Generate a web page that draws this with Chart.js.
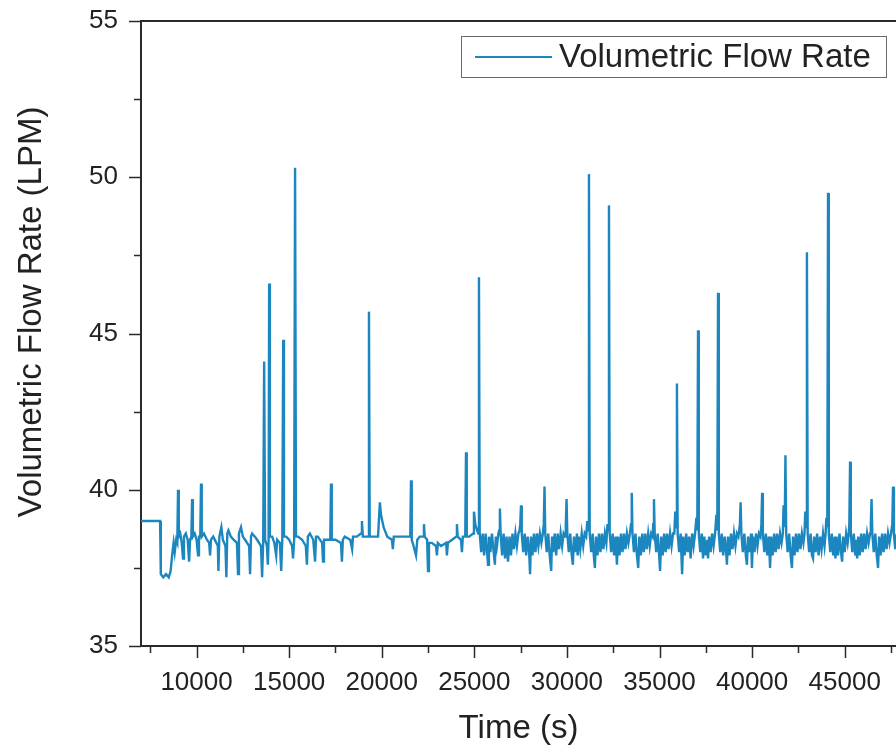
<!DOCTYPE html>
<html>
<head>
<meta charset="utf-8">
<script src="https://cdn.jsdelivr.net/npm/chart.js@4.4.1/dist/chart.umd.min.js"></script>
<style>
  html, body { margin: 0; padding: 0; background: #fff; overflow: hidden; }
  #flowChart { display: block; }
</style>
</head>
<body>
<canvas id="flowChart" width="896" height="749"></canvas>
<script>
// Data
const seriesLabel = 'Volumetric Flow Rate';

// Time (s), start-up and sparse part
const timeS = [
    7000, 8030, 8070, 8200, 8350, 8500, 8600, 8680, 8760, 8820,
    8900, 8960, 9000, 9040, 9120, 9200, 9270, 9320, 9420, 9520,
    9600, 9650, 9720, 9760, 9800, 9900, 10000, 10080, 10130, 10200,
    10240, 10280, 10400, 10560, 10680, 10730, 10780, 10900, 11070, 11150,
    11180, 11230, 11340, 11420, 11560, 11610, 11660, 11720, 11850, 12000,
    12180, 12240, 12290, 12400, 12500, 12620, 12840, 12890, 12940, 13000,
    13150, 13270, 13480, 13540, 13600, 13650, 13700, 13800, 13850, 13890,
    13920, 13960, 14080, 14200, 14300, 14350, 14500, 14570, 14630, 14680,
    14720, 14840, 15000, 15160, 15210, 15270, 15320, 15370, 15480, 15700,
    15900, 15960, 16010, 16120, 16300, 16400, 16450, 16550, 16780, 16830,
    16880, 17000, 17220, 17260, 17300, 17500, 17800, 17850, 17900, 18000,
    18300, 18400, 18450, 18650, 18880, 18930, 18980, 19100, 19270, 19310,
    19350, 19500, 19800, 19900, 19960, 20100, 20300, 20550, 20600, 20650,
    20900, 21300, 21540, 21580, 21620, 21720, 21850, 21920, 22050, 22240,
    22280, 22320, 22450, 22500, 22550, 22700, 22930, 22980, 23030, 23200,
    23480, 23520, 23570, 23800, 24020, 24060, 24100, 24280, 24330, 24380,
    24510, 24550, 24590, 24720, 24940, 24980, 25050, 25150, 25210, 25250, 25290,
    // dense part, one row per bump
    25370, 25450, 25530, 25610, 25690, 25740, 25790, 25870, 25950, 26030, 26110, 26160, 26220, 26300, 26340, 26380, 26420,
    26500, 26580, 26660, 26740, 26820, 26900, 26980, 27060, 27140, 27220, 27300, 27380, 27440, 27480, 27520, 27560,
    27640, 27720, 27800, 27880, 27960, 28010, 28060, 28140, 28220, 28300, 28380, 28460, 28540, 28620, 28700, 28750, 28790, 28830,
    28910, 28990, 29070, 29150, 29200, 29260, 29340, 29420, 29500, 29580, 29660, 29740, 29820, 29900, 29940, 29980, 30020,
    30100, 30180, 30260, 30320, 30380, 30460, 30540, 30580, 30640, 30720, 30800, 30880, 30960, 31040, 31100, 31150, 31190, 31230,
    31310, 31390, 31450, 31510, 31570, 31650, 31730, 31810, 31890, 31970, 32050, 32130, 32190, 32230, 32270, 32310,
    32390, 32470, 32550, 32630, 32700, 32760, 32840, 32920, 33000, 33080, 33160, 33240, 33320, 33400, 33460, 33500, 33540,
    33620, 33700, 33780, 33850, 33910, 33990, 34070, 34150, 34230, 34310, 34390, 34470, 34550, 34630, 34660, 34700, 34740,
    34820, 34900, 34980, 35030, 35090, 35170, 35250, 35330, 35410, 35490, 35570, 35650, 35730, 35800, 35850, 35900, 35940, 35980,
    36060, 36140, 36220, 36280, 36360, 36440, 36520, 36600, 36680, 36760, 36840, 36920, 36990, 37040, 37080, 37120,
    37200, 37280, 37350, 37420, 37500, 37580, 37620, 37680, 37760, 37840, 37920, 38000, 38070, 38120, 38160, 38200,
    38280, 38360, 38440, 38520, 38600, 38640, 38700, 38780, 38860, 38940, 39020, 39100, 39180, 39260, 39340, 39380, 39420,
    39500, 39580, 39660, 39720, 39780, 39860, 39940, 39990, 40050, 40130, 40210, 40290, 40370, 40450, 40500, 40540, 40580,
    40660, 40740, 40820, 40900, 40970, 41030, 41110, 41190, 41270, 41350, 41430, 41510, 41590, 41660, 41700, 41760, 41800, 41840,
    41920, 42000, 42080, 42150, 42210, 42290, 42370, 42450, 42530, 42610, 42690, 42770, 42830, 42870, 42920, 42960, 43000,
    43080, 43160, 43230, 43290, 43350, 43430, 43510, 43590, 43670, 43750, 43830, 43910, 43970, 44010, 44060, 44100, 44140,
    44220, 44300, 44380, 44460, 44500, 44560, 44640, 44720, 44800, 44860, 44920, 45000, 45080, 45160, 45220, 45250, 45290, 45330,
    45410, 45490, 45570, 45630, 45670, 45730, 45810, 45890, 45970, 46050, 46130, 46210, 46290, 46370, 46410, 46450, 46490,
    46570, 46650, 46730, 46800, 46860, 46940, 47020, 47100, 47180, 47260, 47340, 47420, 47500, 47570, 47610, 47650, 47730, 47800
];

// Volumetric flow rate (LPM), same rows as timeS
const flowLPM = [
    39.0, 39.0, 37.3, 37.2, 37.3, 37.2, 37.4, 37.9, 38.3, 38.0,
    38.4, 38.3, 40.0, 38.5, 38.6, 38.3, 37.8, 38.5, 38.6, 38.4,
    37.7, 38.4, 38.5, 39.7, 38.5, 38.6, 38.4, 37.9, 38.5, 38.5,
    40.2, 38.5, 38.6, 38.4, 38.3, 37.9, 38.4, 38.5, 38.3, 38.2,
    37.4, 38.5, 38.8, 38.4, 38.2, 37.2, 38.6, 38.7, 38.5, 38.4,
    38.3, 37.3, 38.6, 38.8, 38.5, 38.4, 38.2, 37.3, 38.5, 38.6,
    38.5, 38.4, 38.2, 37.2, 38.4, 44.1, 38.4, 38.2, 37.6, 38.4,
    46.6, 38.5, 38.5, 38.3, 37.9, 38.4, 38.3, 37.4, 38.4, 44.8,
    38.5, 38.5, 38.4, 38.2, 37.8, 38.4, 50.3, 38.5, 38.5, 38.4,
    38.2, 37.6, 38.5, 38.6, 38.4, 37.7, 38.5, 38.5, 38.3, 37.7,
    38.4, 38.4, 38.4, 40.2, 38.4, 38.4, 38.3, 37.7, 38.4, 38.5,
    38.4, 38.1, 38.5, 38.5, 38.6, 39.0, 38.5, 38.5, 38.5, 45.7,
    38.5, 38.5, 38.5, 39.6, 39.2, 38.8, 38.5, 38.4, 38.1, 38.5,
    38.5, 38.5, 38.5, 40.3, 38.4, 38.2, 37.9, 38.4, 38.5, 38.5,
    38.9, 38.5, 38.4, 37.4, 38.3, 38.3, 38.2, 37.9, 38.3, 38.2,
    38.3, 37.9, 38.3, 38.4, 38.5, 38.9, 38.5, 38.4, 38.0, 38.5,
    38.5, 41.2, 38.5, 38.5, 38.6, 39.3, 38.9, 38.7, 38.6, 46.8, 38.6,
    // dense part
    38.0, 38.6, 37.9, 38.6, 38.0, 37.6, 38.5, 38.0, 38.6, 38.1, 37.6, 38.5, 38.2, 38.6, 38.7, 39.4, 38.6,
    37.9, 38.6, 37.8, 38.5, 37.7, 38.5, 37.9, 38.6, 38.1, 38.6, 38.2, 38.6, 38.7, 38.9, 39.5, 38.6,
    38.0, 38.6, 37.9, 38.5, 38.0, 37.3, 38.5, 37.9, 38.6, 38.0, 38.6, 38.2, 38.6, 38.3, 38.6, 38.9, 40.1, 38.6,
    38.0, 38.6, 37.9, 37.4, 38.5, 38.0, 38.6, 37.9, 38.6, 38.1, 38.6, 38.2, 38.6, 38.5, 38.9, 39.7, 38.6,
    38.0, 38.6, 37.9, 37.6, 38.5, 38.0, 38.6, 37.9, 38.5, 38.1, 38.6, 38.2, 38.6, 38.5, 39.0, 38.7, 50.1, 38.6,
    38.0, 38.6, 37.9, 37.5, 38.5, 37.9, 38.6, 38.0, 38.6, 38.1, 38.6, 38.3, 38.9, 38.7, 49.1, 38.6,
    38.0, 38.6, 37.9, 38.5, 37.6, 38.5, 37.9, 38.6, 38.0, 38.6, 38.1, 38.6, 38.3, 38.6, 38.9, 39.9, 38.6,
    38.0, 38.6, 37.9, 37.5, 38.5, 37.9, 38.6, 38.0, 38.6, 38.1, 38.6, 38.2, 38.6, 38.5, 38.9, 39.7, 38.6,
    38.0, 38.6, 37.9, 37.4, 38.5, 37.9, 38.6, 38.0, 38.6, 38.1, 38.6, 38.2, 38.6, 38.6, 39.3, 38.8, 43.4, 38.6,
    38.0, 38.6, 37.3, 38.5, 37.9, 38.6, 38.0, 38.5, 37.8, 38.6, 38.2, 38.6, 39.1, 38.7, 45.1, 38.6,
    38.0, 38.6, 37.8, 38.5, 37.9, 38.4, 37.8, 38.5, 38.0, 38.6, 38.2, 38.6, 39.2, 38.7, 46.3, 38.6,
    38.0, 38.6, 37.9, 38.5, 38.0, 37.6, 38.5, 37.9, 38.6, 38.1, 38.6, 38.2, 38.6, 38.5, 38.9, 39.6, 38.6,
    38.0, 38.6, 37.9, 37.6, 38.5, 38.0, 38.6, 37.5, 38.5, 38.0, 38.6, 38.2, 38.6, 38.5, 38.9, 39.9, 38.6,
    38.0, 38.6, 37.9, 38.5, 37.5, 38.5, 37.9, 38.6, 38.0, 38.6, 38.1, 38.6, 38.3, 38.6, 39.5, 38.8, 41.1, 38.6,
    38.0, 38.6, 37.9, 37.5, 38.5, 37.9, 38.6, 38.0, 38.6, 38.1, 38.6, 38.3, 38.6, 39.3, 38.8, 47.6, 38.6,
    38.0, 38.6, 37.9, 37.8, 38.5, 38.0, 38.6, 37.9, 38.5, 38.1, 38.6, 38.2, 38.6, 39.1, 38.8, 49.5, 38.6,
    38.0, 38.6, 37.9, 38.5, 37.8, 38.5, 37.9, 38.6, 38.0, 37.7, 38.5, 38.0, 38.6, 38.3, 38.6, 38.9, 40.9, 38.6,
    38.0, 38.6, 37.9, 38.4, 37.8, 38.5, 37.9, 38.6, 38.0, 38.6, 38.1, 38.6, 38.3, 38.6, 38.9, 39.7, 38.6,
    38.0, 38.6, 37.9, 37.5, 38.5, 37.9, 38.6, 38.0, 38.6, 38.1, 38.6, 38.3, 38.6, 38.9, 40.1, 38.6, 38.1, 38.6
];

// Axis ticks
const xMajorTicks = [10000, 15000, 20000, 25000, 30000, 35000, 40000, 45000];
const xMinorTicks = [7500, 12500, 17500, 22500, 27500, 32500, 37500, 42500, 47500];
const yMajorTicks = [35, 40, 45, 50, 55];
const yMinorTicks = [37.5, 42.5, 47.5, 52.5];

const lineColor = '#1c86bf';
const axisColor = '#2a2a2a';
const textColor = '#222222';
const fontFamily = '"Liberation Sans", Arial, Helvetica, sans-serif';

// Draws top frame line, tick marks, legend box and y title
const decorations = {
    id: 'decorations',
    afterDraw(chart) {
        const ctx = chart.ctx;
        const area = chart.chartArea;
        const x = chart.scales.x;
        const y = chart.scales.y;

        ctx.save();
        ctx.strokeStyle = axisColor;

        // top frame line
        ctx.lineWidth = 2;
        ctx.beginPath();
        ctx.moveTo(area.left, area.top);
        ctx.lineTo(area.right, area.top);
        ctx.stroke();

        // tick marks (outward)
        ctx.lineWidth = 1.5;
        ctx.beginPath();
        xMajorTicks.forEach(v => {
            const px = Math.round(x.getPixelForValue(v)) + 0.5;
            ctx.moveTo(px, area.bottom);
            ctx.lineTo(px, area.bottom + 12);
        });
        xMinorTicks.forEach(v => {
            const px = Math.round(x.getPixelForValue(v)) + 0.5;
            ctx.moveTo(px, area.bottom);
            ctx.lineTo(px, area.bottom + 7);
        });
        yMajorTicks.forEach(v => {
            const py = Math.round(y.getPixelForValue(v)) + 0.5;
            ctx.moveTo(area.left, py);
            ctx.lineTo(area.left - 12, py);
        });
        yMinorTicks.forEach(v => {
            const py = Math.round(y.getPixelForValue(v)) + 0.5;
            ctx.moveTo(area.left, py);
            ctx.lineTo(area.left - 7, py);
        });
        ctx.stroke();

        // legend
        ctx.lineWidth = 1;
        ctx.strokeStyle = '#6a6a6a';
        ctx.strokeRect(461.5, 36.5, 425, 41);
        ctx.strokeStyle = lineColor;
        ctx.lineWidth = 2;
        ctx.beginPath();
        ctx.moveTo(475, 57);
        ctx.lineTo(552, 57);
        ctx.stroke();
        ctx.fillStyle = textColor;
        ctx.font = '33px ' + fontFamily;
        ctx.textBaseline = 'middle';
        ctx.textAlign = 'left';
        ctx.fillText(seriesLabel, 559, 58);

        // y axis title
        ctx.translate(32, 312);
        ctx.rotate(-Math.PI / 2);
        ctx.textAlign = 'center';
        ctx.fillText('Volumetric Flow Rate (LPM)', 0, 0);
        ctx.restore();
    }
};

function initFlowChart() {
    const ctx = document.getElementById('flowChart').getContext('2d');
    const points = timeS.map((t, i) => ({ x: t, y: flowLPM[i] }));

    new Chart(ctx, {
        type: 'line',
        data: {
            datasets: [{
                label: seriesLabel,
                data: points,
                borderColor: lineColor,
                borderWidth: 2.4,
                pointRadius: 0,
                tension: 0,
                fill: false
            }]
        },
        options: {
            responsive: false,
            animation: false,
            layout: {
                padding: { top: 21, right: 0, bottom: 0, left: 0 }
            },
            scales: {
                x: {
                    type: 'linear',
                    min: 7000,
                    max: 47770,
                    afterFit: scale => {
                        scale.height = 103;
                        scale.paddingLeft = 0;
                        scale.paddingRight = 0;
                    },
                    afterBuildTicks: scale => {
                        scale.ticks = xMajorTicks.map(v => ({ value: v }));
                    },
                    grid: {
                        display: true,
                        drawOnChartArea: false,
                        drawTicks: true,
                        tickLength: 12,
                        tickColor: 'rgba(0,0,0,0)'
                    },
                    border: { display: true, color: axisColor, width: 2 },
                    ticks: {
                        autoSkip: false,
                        maxRotation: 0,
                        padding: 9,
                        color: textColor,
                        font: { family: fontFamily, size: 26 },
                        callback: v => String(v)
                    },
                    title: {
                        display: true,
                        text: 'Time (s)',
                        color: textColor,
                        padding: { top: 0, bottom: 0 },
                        font: { family: fontFamily, size: 33 }
                    }
                },
                y: {
                    type: 'linear',
                    min: 35,
                    max: 55,
                    afterFit: scale => {
                        scale.width = 141;
                        scale.paddingTop = 0;
                        scale.paddingBottom = 0;
                    },
                    afterBuildTicks: scale => {
                        scale.ticks = yMajorTicks.map(v => ({ value: v }));
                    },
                    grid: {
                        display: true,
                        drawOnChartArea: false,
                        drawTicks: true,
                        tickLength: 12,
                        tickColor: 'rgba(0,0,0,0)'
                    },
                    border: { display: true, color: axisColor, width: 2 },
                    ticks: {
                        autoSkip: false,
                        padding: 11,
                        color: textColor,
                        font: { family: fontFamily, size: 26 },
                        callback: v => String(v)
                    }
                }
            },
            plugins: {
                legend: { display: false },
                tooltip: { enabled: false }
            }
        },
        plugins: [decorations]
    });
}

initFlowChart();
</script>
</body>
</html>
